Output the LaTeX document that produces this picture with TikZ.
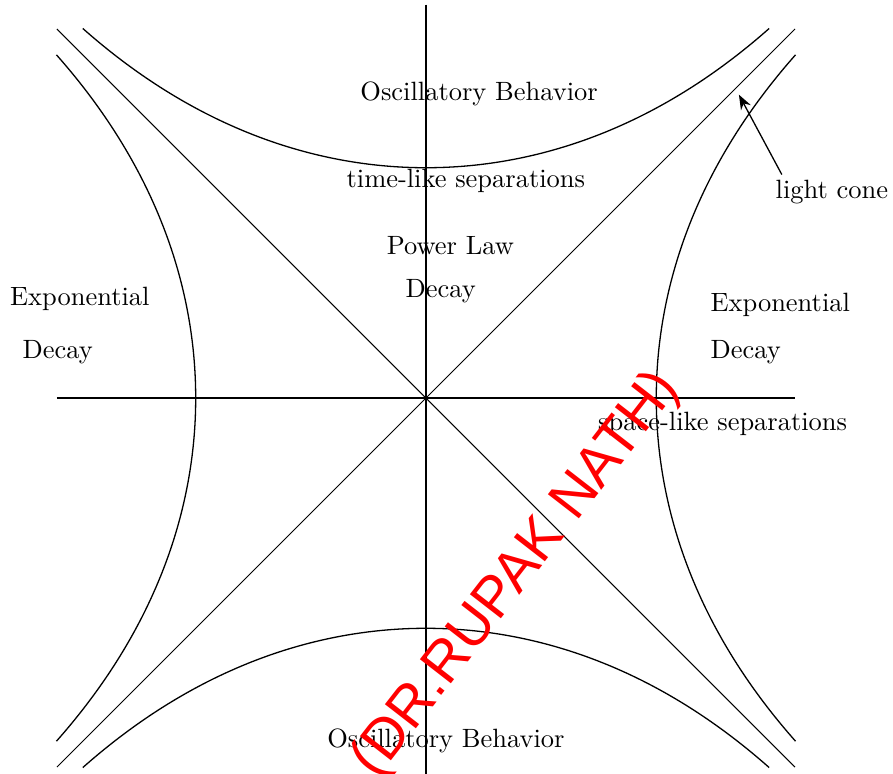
\documentclass[tikz,border=0pt]{standalone}
\usepackage{fontspec}
\newfontfamily\wmfont{Liberation Sans}
\usetikzlibrary{arrows.meta}
\begin{document}
\begin{tikzpicture}[x=1cm,y=1cm,
  axis/.style={line width=0.5pt},
  cone/.style={line width=0.4pt},
  hyp/.style={line width=0.5pt},
  lbl/.style={font=\fontsize{10.2}{12}\selectfont, inner sep=0pt},
  wm/.style={text=red, font=\wmfont\fontsize{22}{26}\selectfont, rotate=52.2, inner sep=0pt}]
\useasboundingbox (-5.772,-5.081) rectangle (6.328,5.393);
\clip (-5.772,-5.081) rectangle (6.328,5.393);
% axes and light cone
\coordinate (L) at (-5,0);
\coordinate (R) at (5,0);
\coordinate (T) at (0,5.33);
\coordinate (B) at (0,-5.33);
\coordinate (TL) at (-5,5);
\coordinate (BR) at (5,-5);
\coordinate (TR) at (5,5);
\coordinate (BL) at (-5,-5);
\draw[axis] (L) -- (R);
\draw[axis] (T) -- (B);
\draw[cone] (TL) -- (BR);
\draw[cone] (TR) -- (BL);
% hyperbola-like curves
\draw[hyp] plot[domain=-4.65:4.65, samples=90, smooth] (\x, {3.12*cosh(0.226*\x)});
\draw[hyp] plot[domain=-4.65:4.65, samples=90, smooth] (\x, {-3.12*cosh(0.226*\x)});
\draw[hyp] plot[domain=-4.65:4.65, samples=90, smooth] ({-3.12*cosh(0.226*\x)}, \x);
\draw[hyp] plot[domain=-4.65:4.65, samples=90, smooth] ({3.12*cosh(0.226*\x)}, \x);
% labels
\node[lbl] (osctop) at (0.72,4.12) {Oscillatory Behavior};
\node[lbl] (timelike) at (0.54,2.94) {time-like separations};
\node[lbl] (power) at (0.33,2.06) {Power Law};
\node[lbl] (pdecay) at (0.20,1.45) {Decay};
\node[lbl] (expl) at (-4.69,1.34) {Exponential};
\node[lbl] (decl) at (-4.99,0.62) {Decay};
\node[lbl, anchor=west] (expr) at (3.85,1.26) {Exponential};
\node[lbl, anchor=west] (decr) at (3.85,0.62) {Decay};
\node[lbl] (spacelike) at (4.02,-0.35) {space-like separations};
\node[lbl] (oscbot) at (0.27,-4.65) {Oscillatory Behavior};
\node[lbl] (lc) at (5.50,2.79) {light cone};
\coordinate (lctip) at (4.24,4.11);
\draw[-{Stealth[length=2mm,width=1.5mm]}, line width=0.5pt] ([shift={(0.09,0.07)}]lc.north west) -- (lctip);
% watermark
\node[wm] (mark) at (1.23,-2.40) {(DR.RUPAK NATH)};
\end{tikzpicture}
\end{document}
